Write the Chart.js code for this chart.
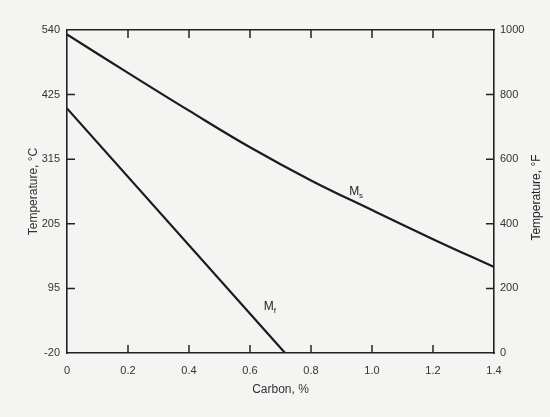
<!DOCTYPE html>
<html>
<head>
<meta charset="utf-8">
<script src="https://cdn.jsdelivr.net/npm/chart.js@4"></script>
<style>
  html, body { margin: 0; padding: 0; background: #f4f4f2; }
</style>
</head>
<body>
<canvas id="cht" width="550" height="417"></canvas>
<script>
// values (temperatures in °C)
const carbon = [0, 0.2, 0.4, 0.6, 0.8, 1.0, 1.2, 1.4];
const msTemp = [530, 464, 399, 336, 279, 228, 178, 130];
const mfCarbon = [0, 0.715];
const mfTemp = [403, -17.8];
const xTickLabels = ['0', '0.2', '0.4', '0.6', '0.8', '1.0', '1.2', '1.4'];
const fTicks = [0, 200, 400, 600, 800, 1000];
const cTickLabels = ['-20', '95', '205', '315', '425', '540'];

const toC = f => (f - 32) * 5 / 9;
const ink = '#222';
const tickFont = { family: 'Liberation Sans', size: 11 };

// inward tick marks, curve names, right hand title
const extras = {
    id: 'extras',
    beforeDraw(chart) {
        const ctx = chart.ctx;
        ctx.save();
        ctx.fillStyle = '#f4f4f2';
        ctx.fillRect(0, 0, chart.width, chart.height);
        ctx.restore();
    },
    afterDraw(chart) {
        const { ctx, chartArea: a, scales } = chart;
        ctx.save();
        ctx.strokeStyle = ink;
        ctx.lineWidth = 1.5;
        ctx.beginPath();
        scales.x.ticks.forEach(t => {
            if (t.value <= 0 || t.value >= 1.4) return;
            let px = scales.x.getPixelForValue(t.value);
            ctx.moveTo(px, a.bottom); ctx.lineTo(px, a.bottom - 8);
            ctx.moveTo(px, a.top); ctx.lineTo(px, a.top + 8);
        });
        scales.y.ticks.forEach((t, i) => {
            if (i == 0 || i == scales.y.ticks.length - 1) return;
            let py = scales.y.getPixelForValue(t.value);
            ctx.moveTo(a.left, py); ctx.lineTo(a.left + 8, py);
        });
        scales.yF.ticks.forEach((t, i) => {
            if (i == 0 || i == scales.yF.ticks.length - 1) return;
            let py = scales.yF.getPixelForValue(t.value);
            ctx.moveTo(a.right, py); ctx.lineTo(a.right - 8, py);
        });
        ctx.stroke();

        // curve names
        ctx.fillStyle = ink;
        ctx.textBaseline = 'middle';
        const name = (sub, c, t) => {
            let x = scales.x.getPixelForValue(c);
            let y = scales.y.getPixelForValue(t);
            ctx.font = '12px "Liberation Sans"';
            ctx.fillText('M', x, y);
            let w = ctx.measureText('M').width;
            ctx.font = '8px "Liberation Sans"';
            ctx.fillText(sub, x + w, y + 4);
        };
        name('s', 0.925, 260);
        name('f', 0.645, 62);

        // right axis title, reads bottom to top
        ctx.font = '12px "Liberation Sans"';
        ctx.textAlign = 'center';
        ctx.translate(537, (a.top + a.bottom) / 2 + 6);
        ctx.rotate(-Math.PI / 2);
        ctx.fillText('Temperature, °F', 0, 0);
        ctx.restore();
    }
};

const chart = new Chart(document.getElementById('cht'), {
    type: 'line',
    data: {
        datasets: [
            {
                label: 'Ms',
                data: carbon.map((c, i) => ({ x: c, y: msTemp[i] })),
                borderColor: '#1b1b1b',
                borderWidth: 2.2,
                pointRadius: 0,
                tension: 0.4,
                fill: false
            },
            {
                label: 'Mf',
                data: mfCarbon.map((c, i) => ({ x: c, y: mfTemp[i] })),
                borderColor: '#1b1b1b',
                borderWidth: 2.2,
                pointRadius: 0,
                fill: false
            }
        ]
    },
    options: {
        responsive: false,
        animation: false,
        devicePixelRatio: 1,
        layout: { padding: 0 },
        plugins: {
            legend: { display: false },
            tooltip: { enabled: false }
        },
        scales: {
            x: {
                type: 'linear',
                position: 'bottom',
                min: 0,
                max: 1.4,
                grid: { display: false, drawTicks: false },
                border: { display: true, color: ink, width: 1.6 },
                ticks: {
                    stepSize: 0.2,
                    padding: 11,
                    color: '#333',
                    font: tickFont,
                    maxRotation: 0,
                    callback: (v, i) => xTickLabels[i]
                },
                title: {
                    display: true,
                    text: 'Carbon, %',
                    color: '#333',
                    font: { family: 'Liberation Sans', size: 12 },
                    padding: { top: 0, bottom: 20 }
                },
                afterFit: s => { s.height = 64; }
            },
            x2: {
                type: 'linear',
                position: 'top',
                min: 0,
                max: 1.4,
                grid: { display: false, drawTicks: false },
                border: { display: true, color: ink, width: 1.6 },
                ticks: { display: false },
                afterFit: s => { s.height = 30; }
            },
            y: {
                type: 'linear',
                position: 'left',
                min: toC(0),
                max: toC(1000),
                afterBuildTicks: s => { s.ticks = fTicks.map(f => ({ value: toC(f) })); },
                grid: { display: false, drawTicks: false },
                border: { display: true, color: ink, width: 1.6 },
                ticks: {
                    padding: 7,
                    color: '#333',
                    font: tickFont,
                    callback: (v, i) => cTickLabels[i]
                },
                title: {
                    display: true,
                    text: 'Temperature, °C',
                    color: '#333',
                    font: { family: 'Liberation Sans', size: 12 },
                    padding: { top: 26, bottom: 0 }
                },
                afterFit: s => { s.width = 67; }
            },
            yF: {
                type: 'linear',
                position: 'right',
                min: 0,
                max: 1000,
                grid: { display: false, drawTicks: false },
                border: { display: true, color: ink, width: 1.6 },
                ticks: {
                    stepSize: 200,
                    padding: 6,
                    color: '#333',
                    font: tickFont,
                    callback: v => String(v)
                },
                afterFit: s => { s.width = 56; }
            }
        }
    },
    plugins: [extras]
});
</script>
</body>
</html>
